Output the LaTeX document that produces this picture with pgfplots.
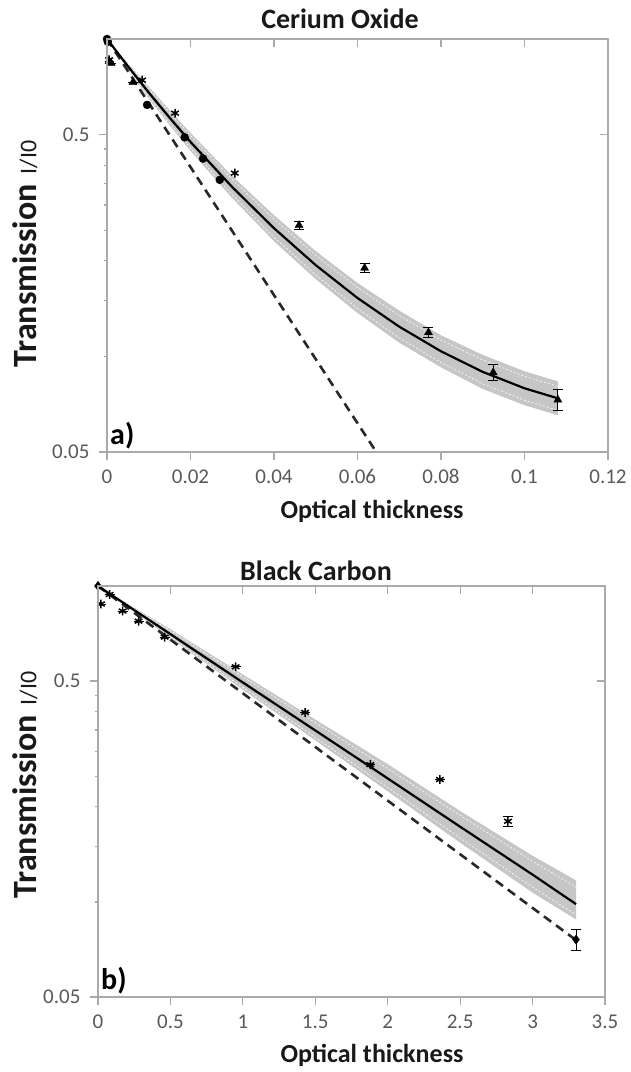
\documentclass[border=0pt]{standalone}
\usepackage{pgfplots}
\pgfplotsset{compat=1.18}
\usepackage{pgfplotstable}
\usepackage{fontspec}
\setmainfont{Carlito}

\definecolor{framegray}{RGB}{170,170,170}
\definecolor{labelgray}{RGB}{89,89,89}
\definecolor{bandgray}{RGB}{198,198,198}
\definecolor{dashgray}{RGB}{40,40,40}
\definecolor{titleblack}{RGB}{25,25,25}

% ---------------- Cerium oxide ----------------
\pgfplotstableread{
x y
0      1.0
0.0002 0.98
0.0096 0.62
0.0186 0.49
0.023  0.42
0.027  0.36
}\ceCircle
\pgfplotstableread{
x y err
0.0005 0.85  0
0.001  0.84  0
0.0062 0.73  0
0.046  0.259 0.008
0.0617 0.190 0.006
0.077  0.119 0.004
0.0925 0.089 0.0053
0.108  0.073 0.0055
}\ceTriangle
\pgfplotstableread{
x y
0.0005 0.86
0.0084 0.742
0.0163 0.584
0.0306 0.378
}\ceStar
\pgfplotstableread{
x      fit    iup    ilo
0      1      1      1
0.005  0.821  0.8336 0.8085
0.01   0.678  0.699  0.6576
0.015  0.565  0.5870 0.5438
0.02   0.474  0.4962 0.4528
0.03   0.3416 0.3612 0.3230
0.04   0.2535 0.2708 0.2373
0.05   0.1939 0.2082 0.1806
0.06   0.1528 0.1649 0.1416
0.07   0.1241 0.1346 0.1144
0.08   0.1038 0.1126 0.0957
0.09   0.0894 0.0975 0.0820
0.1    0.0794 0.0866 0.0728
0.108  0.0738 0.0805 0.0677
}\ceFit
% uncertainty band outline: upper edge forward, lower edge back
\pgfplotstableread{
x     y
0     1
0.005 0.839
0.01  0.708
0.015 0.597
0.02  0.506
0.03  0.370
0.04  0.2786
0.05  0.2146
0.06  0.1704
0.07  0.1394
0.08  0.1166
0.09  0.1011
0.1   0.0898
0.108 0.0835
0.108 0.0653
0.1   0.0702
0.09  0.0790
0.08  0.0924
0.07  0.1105
0.06  0.1370
0.05  0.1752
0.04  0.2307
0.03  0.3154
0.02  0.444
0.015 0.535
0.01  0.649
0.005 0.803
0     1
}\ceBand
\pgfplotstableread{
x y
0      1
0.0645 0.05
}\ceBeer

% ---------------- Black carbon ----------------
\pgfplotstableread{
x y err
0    1.0   0
3.30 0.076 0.0057
}\bcDiamond
\pgfplotstableread{
x y err
0.02 0.877 0
0.08 0.94  0
0.17 0.833 0
0.28 0.774 0
0.46 0.689 0
0.95 0.555 0
1.43 0.398 0
1.88 0.272 0
2.36 0.244 0
2.83 0.180 0.007
}\bcStar
\pgfplotstableread{
x    fit    iup    ilo
0    1      1      1
0.5  0.704  0.7222 0.6897
1    0.495  0.5157 0.4776
1.5  0.349  0.3692 0.3316
2    0.246  0.2643 0.2302
2.5  0.173  0.1878 0.1594
3    0.122  0.1345 0.1113
3.3  0.0984 0.1113 0.0911
}\bcFit
\pgfplotstableread{
x   y
0   1
0.5 0.730
1   0.525
1.5 0.378
2   0.273
2.5 0.194
3   0.140
3.3 0.117
3.3 0.088
3   0.107
2.5 0.154
2   0.224
1.5 0.325
1   0.470
0.5 0.684
0   1
}\bcBand
\pgfplotstableread{
x   y
0   1
3.3 0.0757
}\bcBeer

\begin{document}
\begin{tikzpicture}
\path[use as bounding box] (0pt,0pt) rectangle (630pt,1072pt);

% ======== a) Cerium Oxide ========
\begin{axis}[at={(107pt,620pt)}, anchor=south west,
  scale only axis, width=501pt, height=413pt,
  ymode=log, ymin=0.05, ymax=1,
  xmin=0, xmax=0.12,
  ytick={0.05,0.5}, yticklabels={0.05,0.5},
  xtick={0,0.02,0.04,0.06,0.08,0.1,0.12},
  xticklabels={0,0.02,0.04,0.06,0.08,0.1,0.12},
  minor ytick={},
  axis line style={framegray, line width=1.2pt},
  tick style={framegray, line width=1.2pt},
  major tick length=8pt, tick align=outside,
  xtick pos=bottom, ytick pos=left,
  ticklabel style={font=\fontsize{21}{21}\selectfont, text=labelgray},
  xticklabel shift=6pt, yticklabel shift=6pt]
  \addplot[fill=bandgray, draw=none] table[x=x, y=y] {\ceBand};
  \addplot[white, line width=0.6pt, dash pattern=on 2pt off 2pt] table[x=x, y=iup] {\ceFit};
  \addplot[white, line width=0.6pt, dash pattern=on 2pt off 2pt] table[x=x, y=ilo] {\ceFit};
  \addplot[dashgray, line width=2.6pt, dash pattern=on 9pt off 6pt] table[x=x, y=y] {\ceBeer};
  \addplot[black, line width=2.2pt] table[x=x, y=fit] {\ceFit};
  \addplot[only marks, mark=*, mark size=4pt, black] table[x=x, y=y] {\ceCircle};
  \addplot[only marks, mark=triangle*, mark size=4.6pt, black,
    error bars/.cd, y dir=both, y explicit,
    error bar style={black, line width=1pt},
    error mark options={rotate=90, black, mark size=5pt, line width=1pt}]
    table[x=x, y=y, y error=err] {\ceTriangle};
  \addplot[only marks, mark=asterisk, mark size=4.4pt, black, line width=1.5pt]
    table[x=x, y=y] {\ceStar};
  \node[anchor=south west, inner sep=1pt, font=\bfseries\fontsize{30}{30}\selectfont]
    at (rel axis cs:0.004,0.004) {a)};
\end{axis}
% top and right ticks, pointing inwards
\begin{axis}[at={(107pt,620pt)}, anchor=south west,
  scale only axis, width=501pt, height=413pt,
  ymode=log, ymin=0.05, ymax=1, xmin=0, xmax=0.12,
  xtick={0,0.02,0.04,0.06,0.08,0.1,0.12}, ytick={0.5}, minor ytick={},
  axis line style={framegray, line width=1.2pt},
  tick style={framegray, line width=1.2pt},
  major tick length=8pt, tick align=inside,
  xtick pos=top, ytick pos=right,
  xticklabels={}, yticklabels={}]
\end{axis}

% ======== b) Black Carbon ========
\begin{axis}[at={(98pt,75pt)}, anchor=south west,
  scale only axis, width=507pt, height=411pt,
  ymode=log, ymin=0.05, ymax=1,
  xmin=0, xmax=3.5,
  ytick={0.05,0.5}, yticklabels={0.05,0.5},
  xtick={0,0.5,1,1.5,2,2.5,3,3.5},
  xticklabels={0,0.5,1,1.5,2,2.5,3,3.5},
  minor ytick={},
  axis line style={framegray, line width=1.2pt},
  tick style={framegray, line width=1.2pt},
  major tick length=8pt, tick align=outside,
  xtick pos=bottom, ytick pos=left,
  ticklabel style={font=\fontsize{21}{21}\selectfont, text=labelgray},
  xticklabel shift=6pt, yticklabel shift=6pt]
  \addplot[fill=bandgray, draw=none] table[x=x, y=y] {\bcBand};
  \addplot[white, line width=0.6pt, dash pattern=on 2pt off 2pt] table[x=x, y=iup] {\bcFit};
  \addplot[white, line width=0.6pt, dash pattern=on 2pt off 2pt] table[x=x, y=ilo] {\bcFit};
  \addplot[dashgray, line width=2.6pt, dash pattern=on 9pt off 6pt] table[x=x, y=y] {\bcBeer};
  \addplot[black, line width=2.2pt] table[x=x, y=fit] {\bcFit};
  \addplot[only marks, mark=diamond*, mark size=4.6pt, black,
    error bars/.cd, y dir=both, y explicit,
    error bar style={black, line width=1pt},
    error mark options={rotate=90, black, mark size=5pt, line width=1pt}]
    table[x=x, y=y, y error=err] {\bcDiamond};
  \addplot[only marks, mark=asterisk, mark size=4.4pt, black, line width=1.5pt,
    error bars/.cd, y dir=both, y explicit,
    error bar style={black, line width=1pt},
    error mark options={rotate=90, black, mark size=5pt, line width=1pt}]
    table[x=x, y=y, y error=err] {\bcStar};
  \node[anchor=south west, inner sep=1pt, font=\bfseries\fontsize{30}{30}\selectfont]
    at (rel axis cs:0.004,0.004) {b)};
\end{axis}
\begin{axis}[at={(98pt,75pt)}, anchor=south west,
  scale only axis, width=507pt, height=411pt,
  ymode=log, ymin=0.05, ymax=1, xmin=0, xmax=3.5,
  xtick={0,0.5,1,1.5,2,2.5,3,3.5}, ytick={0.5}, minor ytick={},
  axis line style={framegray, line width=1.2pt},
  tick style={framegray, line width=1.2pt},
  major tick length=8pt, tick align=inside,
  xtick pos=top, ytick pos=right,
  xticklabels={}, yticklabels={}]
\end{axis}

% titles, axis titles
\node[font=\bfseries\fontsize{28}{28}\selectfont, text=titleblack] at (340pt,1053pt) {Cerium Oxide};
\node[font=\bfseries\fontsize{28}{28}\selectfont, text=titleblack] at (316pt,501pt) {Black Carbon};
\node[font=\bfseries\fontsize{26}{26}\selectfont, text=titleblack] at (372pt,561pt) {Optical thickness};
\node[font=\bfseries\fontsize{26}{26}\selectfont, text=titleblack] at (372pt,17pt) {Optical thickness};
\node[rotate=90, text=titleblack] at (25pt,818pt)
  {{\bfseries\fontsize{34}{34}\selectfont Transmission}\hspace{10pt}{\fontsize{24}{24}\selectfont I/I0}};
\node[rotate=90, text=titleblack] at (25pt,287pt)
  {{\bfseries\fontsize{34}{34}\selectfont Transmission}\hspace{10pt}{\fontsize{24}{24}\selectfont I/I0}};
\end{tikzpicture}
\end{document}
